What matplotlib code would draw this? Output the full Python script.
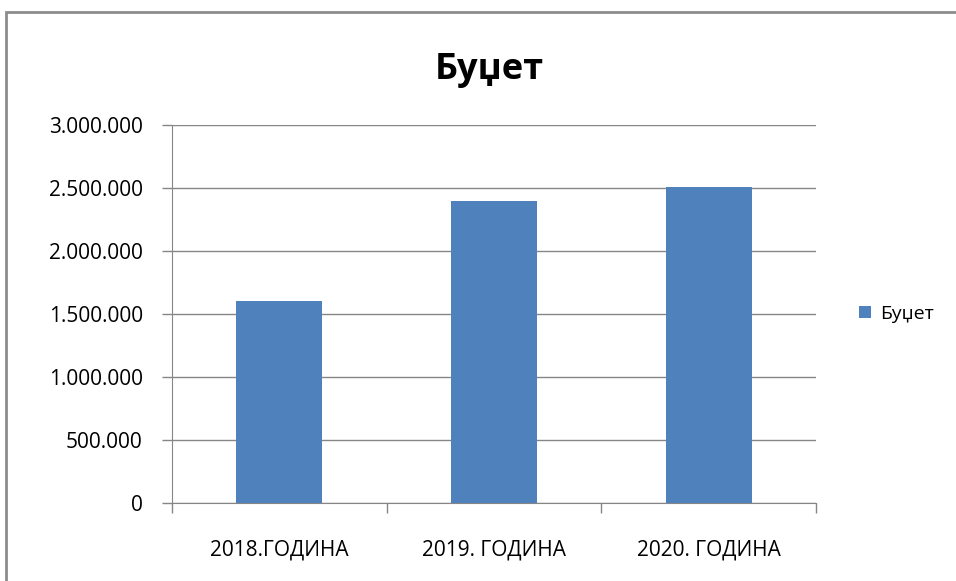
import matplotlib.pyplot as plt
from matplotlib.patches import Rectangle

plt.rcParams['font.family'] = ['Open Sans', 'DejaVu Sans']

# data
categories = ['2018.ГОДИНА', '2019. ГОДИНА', '2020. ГОДИНА']
budget = [1606000, 2400000, 2511000]
y_ticks = [0, 500000, 1000000, 1500000, 2000000, 2500000, 3000000]
y_labels = ['0', '500.000', '1.000.000', '1.500.000', '2.000.000', '2.500.000', '3.000.000']

fig = plt.figure(figsize=(9.56, 5.81), dpi=100)
ax = fig.add_axes([0.1799, 0.1343, 0.6736, 0.6506])

# outer chart frame
fig.patches.append(Rectangle((0.006, -0.02), 1.1, 0.999, transform=fig.transFigure,
                             fill=False, edgecolor='#8c8c8c', linewidth=2))

bars = ax.bar(range(len(categories)), budget, width=0.4, color='#4f81bd', label='Буџет', zorder=3)

ax.set_xlim(-0.5, len(categories) - 0.5)
ax.set_ylim(0, 3000000)
ax.set_yticks(y_ticks)
ax.set_yticklabels(y_labels, fontsize=15)
ax.set_xticks(range(len(categories)))
ax.set_xticklabels(categories, fontsize=15)
ax.tick_params(axis='x', length=0, pad=26)
ax.tick_params(axis='y', length=7, color='#868686', width=1, pad=14)

# category boundary ticks
ax.set_xticks([-0.5, 0.5, 1.5, 2.5], minor=True)
ax.tick_params(axis='x', which='minor', length=7, color='#868686', width=1)

ax.grid(axis='y', color='#868686', linewidth=1, zorder=0)
for s in ['top', 'right']:
    ax.spines[s].set_visible(False)
ax.spines['left'].set_color('#868686')
ax.spines['bottom'].set_color('#868686')

fig.text(0.512, 0.879, 'Буџет', ha='center', va='center', fontsize=26, fontweight='bold')

ax.legend(loc='center left', bbox_to_anchor=(1.04, 0.5), frameon=False, fontsize=14,
          handlelength=0.6, handleheight=0.6, handletextpad=0.5)

fig.savefig('out.png', dpi=100)
